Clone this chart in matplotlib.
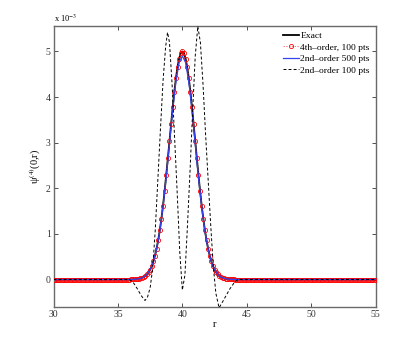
import numpy as np
import matplotlib
matplotlib.use("Agg")
import matplotlib.pyplot as plt

# ---- data (psi values in units of 1e-3) ----
r_step_fine = 0.125
r_core_start, r_core_end = 36.0, 44.0
exact_core = [0.002, 0.003, 0.004, 0.007, 0.011, 0.017, 0.025, 0.038, 0.056, 0.080,
              0.114, 0.160, 0.220, 0.298, 0.398, 0.523, 0.677, 0.862, 1.082, 1.335,
              1.623, 1.943, 2.289, 2.656, 3.033, 3.410, 3.774, 4.113, 4.412, 4.660,
              4.846, 4.961, 5.000,
              4.961, 4.846, 4.660, 4.412, 4.113, 3.774, 3.410, 3.033, 2.656, 2.289,
              1.943, 1.623, 1.335, 1.082, 0.862, 0.677, 0.523, 0.398, 0.298, 0.220,
              0.160, 0.114, 0.080, 0.056, 0.038, 0.025, 0.017, 0.011, 0.007, 0.004,
              0.003, 0.002]
fourth_core = exact_core  # 4th-order markers lie on the exact curve

r_step_blue = 0.25
blue_core = [0.002, 0.004, 0.011, 0.025, 0.055, 0.11, 0.22, 0.39, 0.67, 1.06, 1.60,
             2.25, 2.98, 3.71, 4.34, 4.76, 4.90, 4.76, 4.34, 3.71, 2.98, 2.25, 1.60,
             1.06, 0.67, 0.39, 0.22, 0.11, 0.055, 0.025, 0.011, 0.004, 0.002]

dash_r = [30.0, 35.9, 36.2, 36.5, 36.8, 37.1, 37.3, 37.5, 37.7, 37.9, 38.1, 38.3,
          38.5, 38.7, 38.85, 39.0, 39.2, 39.4, 39.6, 39.8, 40.0, 40.2, 40.4, 40.6,
          40.8, 41.0, 41.2, 41.4, 41.6, 41.8, 42.0, 42.2, 42.4, 42.6, 42.85, 43.1,
          43.4, 43.7, 44.0, 44.3, 55.0]
dash_v = [0.0, 0.0, -0.07, -0.2, -0.35, -0.46, -0.38, -0.18, 0.25, 1.1, 2.2, 3.3,
          4.35, 5.1, 5.42, 5.2, 4.3, 3.1, 1.9, 0.6, -0.23, 0.1, 1.2, 2.4,
          3.7, 4.9, 5.55, 5.2, 4.3, 3.2, 2.2, 1.2, 0.3, -0.3, -0.62, -0.5,
          -0.35, -0.2, -0.08, 0.0, 0.0]

labels = ["Exact", "4th\u2013order, 100 pts", "2nd\u2013order 500 pts", "2nd\u2013order 100 pts"]
xticks = [30, 35, 40, 45, 50, 55]
yticks = [0, 1, 2, 3, 4, 5]

# ---- build full series (zero outside the core) ----
r_fine = np.arange(30.0, 55.0 + 1e-9, r_step_fine)
exact = np.zeros_like(r_fine)
i0 = int(round((r_core_start - 30.0) / r_step_fine))
exact[i0:i0 + len(exact_core)] = exact_core
fourth = exact.copy()

r_blue = np.arange(30.0, 55.0 + 1e-9, r_step_blue)
blue = np.zeros_like(r_blue)
j0 = int(round((r_core_start - 30.0) / r_step_blue))
blue[j0:j0 + len(blue_core)] = blue_core

plt.rcParams['font.family'] = ['Liberation Serif', 'DejaVu Serif']
plt.rcParams['mathtext.fontset'] = 'stix'

fig = plt.figure(figsize=(4.15, 3.46), dpi=100)
ax = fig.add_axes([0.129, 0.113, 0.776, 0.812])

ax.plot(r_fine, exact, color='black', lw=1.3, label=labels[0], zorder=2)
ax.plot(r_fine, fourth, color='#ff4444', ls='--', lw=0.5, marker='o', ms=3.0,
        mfc='none', mec='red', mew=0.6, dashes=(2, 2), label=labels[1], zorder=3)
ax.plot(r_blue, blue, color='#3344ee', lw=0.9, label=labels[2], zorder=4)
ax.plot(dash_r, dash_v, color='black', lw=0.7, ls='--', dashes=(3, 2.2),
        label=labels[3], zorder=5)

ax.set_xlim(30, 55)
ax.set_ylim(-0.6, 5.56)
ax.set_xticks(xticks)
ax.set_yticks(yticks)
ax.tick_params(direction='in', length=3, width=0.6, labelsize=7, top=True,
               right=True, colors='#333333', pad=2)
for s in ax.spines.values():
    s.set_color('#6a6a6a')
    s.set_linewidth(1.0)

ax.set_xlabel('r', fontsize=7.5, labelpad=1)
ax.set_ylabel('\u03c8$^{(4)}$(0,r)', fontsize=7.5, labelpad=2)
fig.text(0.131, 0.93, r'x 10$^{-3}$', fontsize=6, ha='left', va='bottom')

leg = ax.legend(loc='upper right', frameon=False, fontsize=6.8, handlelength=1.7,
                handletextpad=0.15, labelspacing=0.3, borderaxespad=0.2,
                numpoints=1, bbox_to_anchor=(1.0, 1.0))

fig.savefig('out.png', dpi=100)
